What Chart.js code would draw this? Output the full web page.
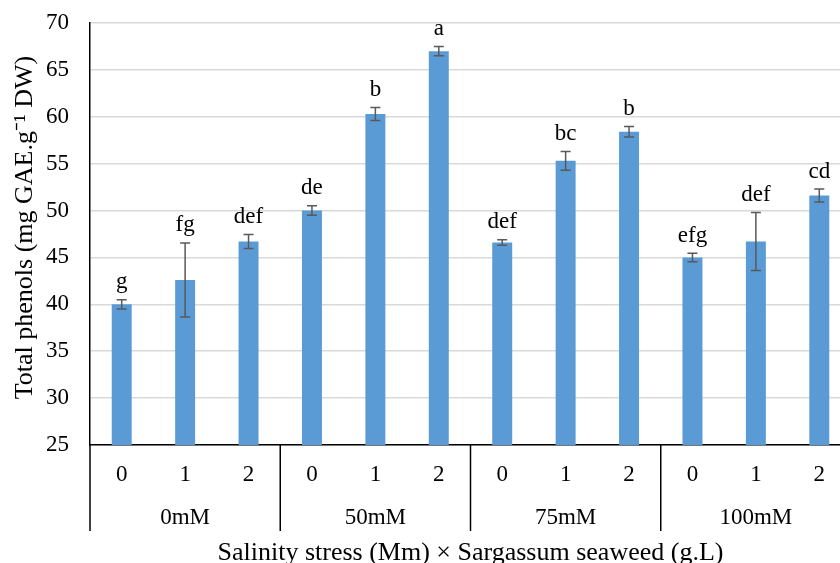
<!DOCTYPE html>
<html>
<head>
<meta charset="utf-8">
<title>Total phenols</title>
<script src="https://cdn.jsdelivr.net/npm/chart.js@4.4.1/dist/chart.umd.min.js"></script>
<style>
  html, body { margin: 0; padding: 0; overflow: hidden; background: #fff; }
  #wrap { width: 852px; height: 572px; position: relative; }
</style>
</head>
<body>
<div id="wrap"><canvas id="myChart"></canvas></div>
<script>

// data
const seaweedLabels = ['0', '1', '2', '0', '1', '2', '0', '1', '2', '0', '1', '2'];
const salinityGroups = ['0mM', '50mM', '75mM', '100mM'];
const phenolValues = [40.0, 42.6, 46.7, 50.0, 60.3, 67.0, 46.6, 55.3, 58.4, 45.0, 46.7, 51.6];
const phenolErrors = [0.5, 3.95, 0.75, 0.5, 0.7, 0.5, 0.3, 1.0, 0.55, 0.45, 3.1, 0.7];
const letterLabels = ['g', 'fg', 'def', 'de', 'b', 'a', 'def', 'bc', 'b', 'efg', 'def', 'cd'];
const yMin = 25;
const yMax = 70;
const yStep = 5;

const serif = '"Liberation Serif", "Times New Roman", serif';

// error bars + significance letters
const errorBars = {
  id: 'errorBars',
  afterDatasetsDraw(chart) {
    const ctx = chart.ctx;
    const y = chart.scales.y;
    const bars = chart.getDatasetMeta(0).data;
    ctx.save();
    bars.forEach(function(bar, i) {
      const top = y.getPixelForValue(phenolValues[i] + phenolErrors[i]);
      const bot = y.getPixelForValue(phenolValues[i] - phenolErrors[i]);
      ctx.strokeStyle = '#595959';
      ctx.lineWidth = 1.5;
      ctx.beginPath();
      ctx.moveTo(bar.x, top); ctx.lineTo(bar.x, bot);
      ctx.moveTo(bar.x - 5, top); ctx.lineTo(bar.x + 5, top);
      ctx.moveTo(bar.x - 5, bot); ctx.lineTo(bar.x + 5, bot);
      ctx.stroke();

      ctx.fillStyle = '#000';
      ctx.font = '23px ' + serif;
      ctx.textAlign = 'center';
      ctx.textBaseline = 'bottom';
      ctx.fillText(letterLabels[i], bar.x, top - 6);
    });
    ctx.restore();
  }
};

// vertical separators between salinity groups under the axis
const groupLines = {
  id: 'groupLines',
  afterDraw(chart) {
    const x = chart.scales.x;
    const x2 = chart.scales.x2;
    const ctx = chart.ctx;
    const per = seaweedLabels.length / salinityGroups.length;
    ctx.save();
    ctx.strokeStyle = '#000';
    ctx.lineWidth = 1.5;
    for (let g = 0; g <= salinityGroups.length; g++) {
      const px = x.getPixelForValue(g * per - 0.5);
      ctx.beginPath();
      ctx.moveTo(px, x.top);
      ctx.lineTo(px, x2.top + 34);
      ctx.stroke();
    }
    ctx.restore();
  }
};

const ctx = document.getElementById('myChart');

new Chart(ctx, {
  type: 'bar',
  data: {
    labels: seaweedLabels,
    datasets: [{
      label: 'Total phenols',
      data: phenolValues,
      backgroundColor: '#5B9BD5',
      borderWidth: 0,
      barPercentage: 0.315,
      categoryPercentage: 1
    }]
  },
  options: {
    responsive: true,
    maintainAspectRatio: false,
    animation: false,
    layout: { padding: { top: 23, right: 1, bottom: 0, left: 0 } },
    plugins: {
      legend: { display: false },
      tooltip: { enabled: false }
    },
    scales: {
      x: {
        position: 'bottom',
        weight: 0,
        grid: { display: false, drawTicks: false },
        border: { display: true, color: '#000', width: 1.5 },
        ticks: {
          color: '#000',
          font: { family: serif, size: 23 },
          padding: 16,
          maxRotation: 0,
          autoSkip: false
        },
        afterFit(scale) { scale.height = 52; }
      },
      x2: {
        type: 'category',
        labels: salinityGroups,
        position: 'bottom',
        weight: 1,
        offset: true,
        grid: { display: false, drawTicks: false },
        border: { display: false },
        ticks: {
          color: '#000',
          font: { family: serif, size: 23 },
          padding: 7,
          maxRotation: 0,
          autoSkip: false
        },
        title: {
          display: true,
          text: 'Salinity stress (Mm) × Sargassum seaweed (g.L)',
          color: '#000',
          font: { family: serif, size: 26 },
          padding: { top: 0, bottom: 3 }
        },
        afterFit(scale) { scale.height = 75; }
      },
      y: {
        min: yMin,
        max: yMax,
        ticks: {
          stepSize: yStep,
          color: '#000',
          font: { family: serif, size: 23 },
          padding: 0
        },
        grid: {
          color: '#d9d9d9',
          lineWidth: 1.5,
          drawTicks: true,
          tickLength: 21,
          tickColor: 'rgba(0,0,0,0)'
        },
        border: { color: '#000', width: 1.5 },
        title: {
          display: true,
          text: '\u00a0\u00a0Total phenols (mg GAE.g⁻¹ DW)',
          color: '#000',
          font: { family: serif, size: 26 },
          padding: { top: 10, bottom: 0 }
        },
        afterFit(scale) { scale.width = 90; }
      }
    }
  },
  plugins: [errorBars, groupLines]
});

</script>
</body>
</html>
